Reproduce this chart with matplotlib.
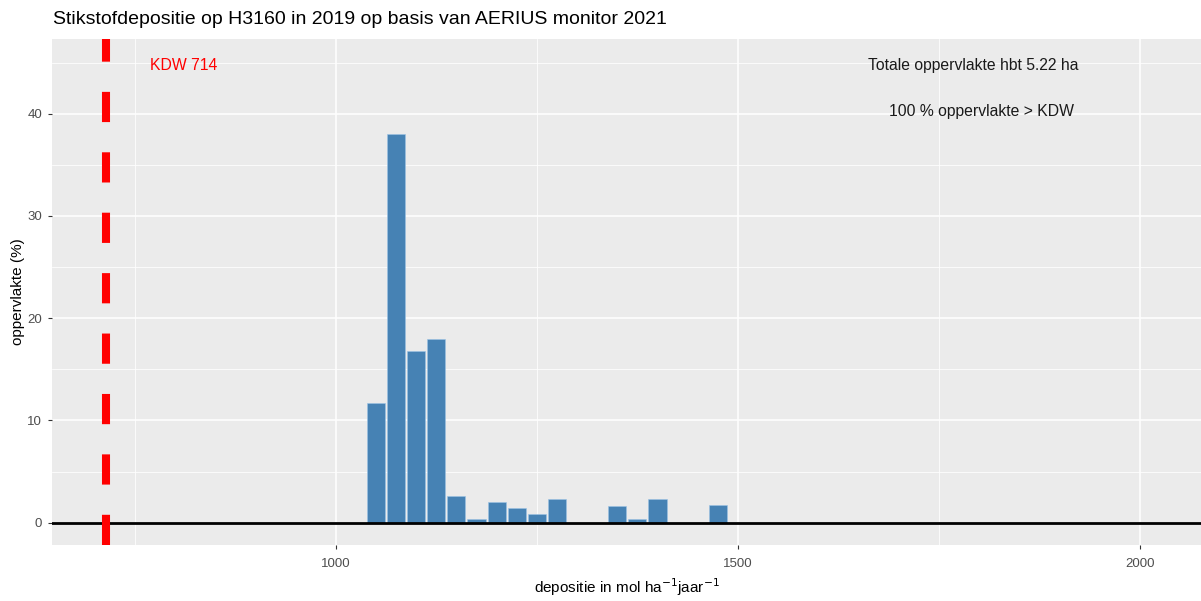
import matplotlib
matplotlib.use("Agg")
import matplotlib.pyplot as plt
from matplotlib.ticker import MultipleLocator

plt.rcParams['font.family'] = ['Liberation Sans', 'DejaVu Sans']

# class midpoints (mol/ha/jaar) and share of area (%)
depositie = [1050, 1075, 1100, 1125, 1150, 1175, 1200, 1225, 1250, 1275,
             1350, 1375, 1400, 1475]
oppervlakte = [11.7, 38.0, 16.8, 18.0, 2.6, 0.4, 2.0, 1.4, 0.8, 2.3,
               1.6, 0.4, 2.3, 1.7]
bin_breedte = 25
kdw = 714
totaal_ha = 5.22
pct_boven_kdw = 100

fig = plt.figure(figsize=(12.01, 6.01), dpi=100)
ax = fig.add_axes([0.0433, 0.093, 0.9567, 0.842])
ax.set_facecolor('#EBEBEB')

ax.set_xlim(647, 2076)
ax.set_ylim(-2.2, 47.3)
ax.xaxis.set_major_locator(MultipleLocator(500))
ax.xaxis.set_minor_locator(MultipleLocator(250))
ax.yaxis.set_major_locator(MultipleLocator(10))
ax.yaxis.set_minor_locator(MultipleLocator(5))
ax.grid(which='major', color='white', lw=1.1)
ax.grid(which='minor', color='white', lw=0.55)
ax.set_axisbelow(True)
for s in ax.spines.values():
    s.set_visible(False)

ax.bar(depositie, oppervlakte, width=bin_breedte * 0.9, color='#4682B4',
       edgecolor='#9CC3E6', linewidth=0.4, zorder=2)
ax.axhline(0, color='black', lw=2, zorder=3)
ax.axvline(kdw, color='#FF0000', lw=5.8, dashes=(3.75, 3.75),
           solid_capstyle='butt', dash_capstyle='butt', zorder=4)

ax.text(kdw + 55, 44.7, f"KDW {kdw}", color='#FF0000', fontsize=11.3,
        ha='left', va='center')
ax.text(1793, 44.7, f"Totale oppervlakte hbt {totaal_ha} ha", fontsize=11.3,
        ha='center', va='center', color='#1A1A1A')
ax.text(1803, 40.2, f"{pct_boven_kdw} % oppervlakte > KDW", fontsize=11.3,
        ha='center', va='center', color='#1A1A1A')

ax.tick_params(which='major', length=3, color='#333333', labelcolor='#4D4D4D',
               labelsize=9.5, pad=4)
ax.tick_params(axis='x', which='major', pad=6)
ax.tick_params(which='minor', length=0)

ax.set_xlabel("depositie in mol ha$^{-1}$jaar$^{-1}$", fontsize=11, labelpad=5)
ax.set_ylabel("oppervlakte (%)", fontsize=11, labelpad=2)
fig.text(0.0441, 0.968, "Stikstofdepositie op H3160 in 2019 op basis van AERIUS monitor 2021",
         fontsize=14, ha='left', va='center')

fig.savefig("out.png", dpi=100)
